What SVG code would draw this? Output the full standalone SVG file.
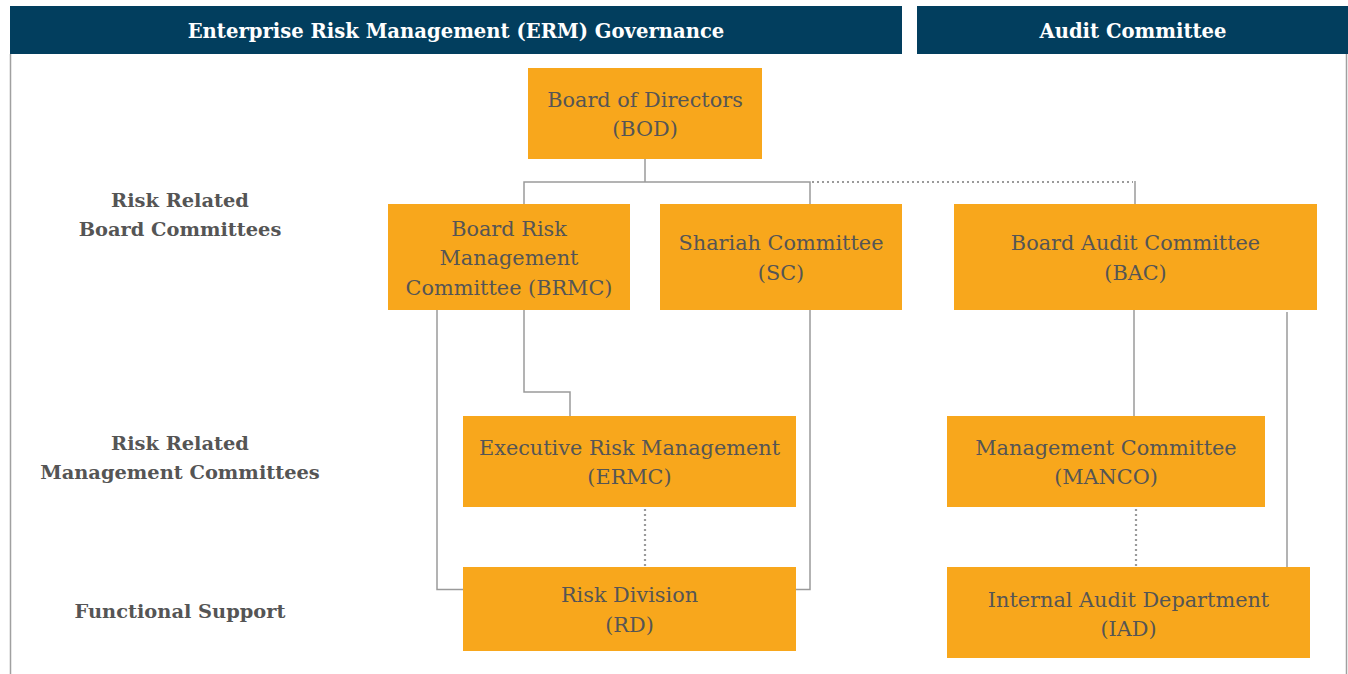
<svg xmlns="http://www.w3.org/2000/svg" width="1348" height="674" viewBox="0 0 1348 674">
  <style>
    .hdr { fill: #023e5e; }
    .hdr-text { font-family: "DejaVu Serif", "Liberation Serif", serif; font-weight: bold; font-size: 19.6px; fill: #ffffff; text-anchor: middle; }
    .node { fill: #f8a71c; }
    .node-text { font-family: "DejaVu Serif", "Liberation Serif", serif; font-size: 20.8px; fill: #555555; text-anchor: middle; }
    .label { font-family: "DejaVu Serif", "Liberation Serif", serif; font-weight: bold; font-size: 19.4px; fill: #555555; text-anchor: middle; }
    .frame { stroke: #a0a0a0; stroke-width: 1.5; fill: none; }
    .solid { stroke: #9a9a9a; stroke-width: 1.5; fill: none; }
    .dotted { stroke: #9a9a9a; stroke-width: 2.2; fill: none; stroke-dasharray: 2 3; }
  </style>

  <!-- outer frame side rules -->
  <line class="frame" x1="10.5" y1="54" x2="10.5" y2="674"/>
  <line class="frame" x1="1346.5" y1="54" x2="1346.5" y2="674"/>

  <!-- section headers -->
  <g id="header-erm">
    <rect class="hdr" x="10" y="6" width="892" height="48"/>
    <text class="hdr-text" x="456" y="38">Enterprise Risk Management (ERM) Governance</text>
  </g>
  <g id="header-audit">
    <rect class="hdr" x="917" y="6" width="431" height="48"/>
    <text class="hdr-text" x="1133" y="38">Audit Committee</text>
  </g>

  <!-- row labels -->
  <g id="label-board">
    <text class="label" x="180" y="207">Risk Related</text>
    <text class="label" x="180" y="236">Board Committees</text>
  </g>
  <g id="label-management">
    <text class="label" x="180" y="450">Risk Related</text>
    <text class="label" x="180" y="479">Management Committees</text>
  </g>
  <g id="label-functional">
    <text class="label" x="180" y="618">Functional Support</text>
  </g>

  <!-- connectors -->
  <g id="connectors">
    <polyline class="solid" points="645,159 645,182"/>
    <polyline class="solid" points="524,204 524,182 810,182 810,204"/>
    <polyline class="dotted" points="812,182 1133,182"/>
    <polyline class="solid" points="1135,181 1135,204"/>
    <polyline class="solid" points="437,310 437,589.5 463,589.5"/>
    <polyline class="solid" points="524,310 524,392 570,392 570,416"/>
    <polyline class="solid" points="810,310 810,589.5 796,589.5"/>
    <polyline class="dotted" points="645,509 645,567"/>
    <polyline class="solid" points="1134,310 1134,416"/>
    <polyline class="solid" points="1287,312 1287,567"/>
    <polyline class="dotted" points="1136,509 1136,567"/>
  </g>

  <!-- nodes -->
  <g id="node-bod">
    <rect class="node" x="528" y="68" width="234" height="91"/>
    <text class="node-text" x="645" y="107">Board of Directors</text>
    <text class="node-text" x="645" y="136">(BOD)</text>
  </g>
  <g id="node-brmc">
    <rect class="node" x="388" y="204" width="242" height="106"/>
    <text class="node-text" x="509" y="236">Board Risk</text>
    <text class="node-text" x="509" y="265">Management</text>
    <text class="node-text" x="509" y="295">Committee (BRMC)</text>
  </g>
  <g id="node-sc">
    <rect class="node" x="660" y="204" width="242" height="106"/>
    <text class="node-text" x="781" y="250">Shariah Committee</text>
    <text class="node-text" x="781" y="280">(SC)</text>
  </g>
  <g id="node-bac">
    <rect class="node" x="954" y="204" width="363" height="106"/>
    <text class="node-text" x="1135.5" y="250">Board Audit Committee</text>
    <text class="node-text" x="1135.5" y="280">(BAC)</text>
  </g>
  <g id="node-ermc">
    <rect class="node" x="463" y="416" width="333" height="91"/>
    <text class="node-text" x="629.5" y="455">Executive Risk Management</text>
    <text class="node-text" x="629.5" y="484">(ERMC)</text>
  </g>
  <g id="node-manco">
    <rect class="node" x="947" y="416" width="318" height="91"/>
    <text class="node-text" x="1106" y="455">Management Committee</text>
    <text class="node-text" x="1106" y="484">(MANCO)</text>
  </g>
  <g id="node-rd">
    <rect class="node" x="463" y="567" width="333" height="84"/>
    <text class="node-text" x="629.5" y="602">Risk Division</text>
    <text class="node-text" x="629.5" y="632">(RD)</text>
  </g>
  <g id="node-iad">
    <rect class="node" x="947" y="567" width="363" height="91"/>
    <text class="node-text" x="1128.5" y="607">Internal Audit Department</text>
    <text class="node-text" x="1128.5" y="636">(IAD)</text>
  </g>
</svg>
